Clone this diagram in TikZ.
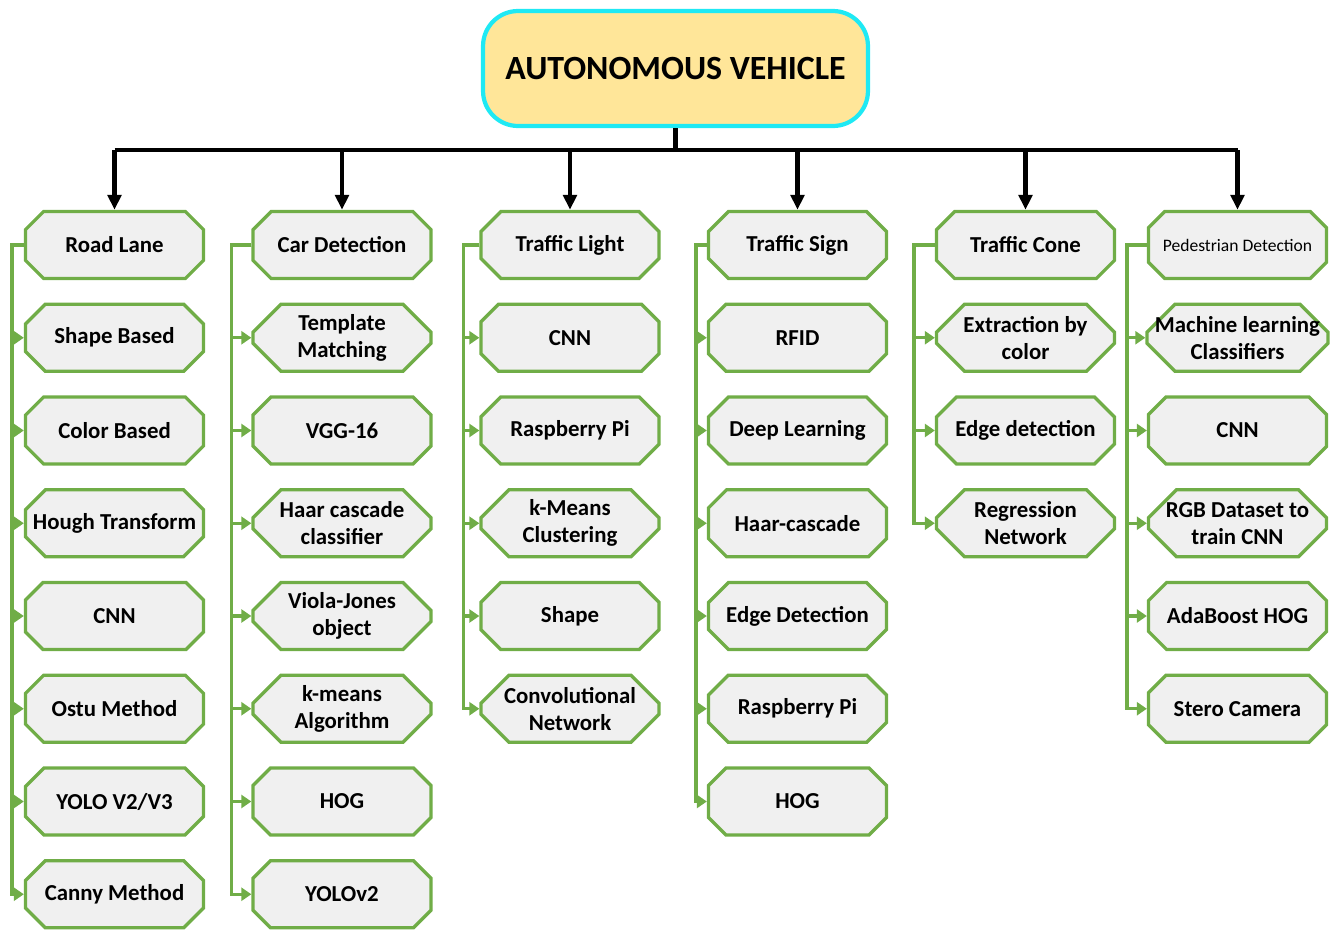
\documentclass[tikz,border=0pt]{standalone}
\usepackage{fontspec}
\setmainfont{Carlito}
\usetikzlibrary{arrows.meta,shapes.misc,positioning}

\definecolor{leafgreen}{HTML}{70AD47}
\definecolor{leaffill}{HTML}{F0F0F0}
\definecolor{rootfill}{HTML}{FFE699}
\definecolor{rootline}{HTML}{1FE9F4}

\tikzset{
  root/.style={draw=rootline, line width=2.4pt, fill=rootfill, rounded corners=0.7cm,
    minimum width=7.7cm, minimum height=2.3cm, font=\fontsize{19.3}{23}\selectfont\bfseries},
  item/.style={chamfered rectangle, chamfered rectangle xsep=0.26cm, chamfered rectangle ysep=0.3cm,
    draw=leafgreen, line width=1.9pt, fill=leaffill, minimum width=3.56cm, minimum height=1.34cm,
    inner xsep=-0.1cm, inner ysep=-0.1cm, align=center, font=\fontsize{13}{15.4}\selectfont\bfseries},
  trunk/.style={line width=2.3pt},
  drop/.style={trunk, -{Triangle[length=0.3cm,width=0.27cm]}},
  feed/.style={leafgreen, line width=1.9pt, -{Triangle[length=0.2cm,width=0.26cm]}},
}

\begin{document}
\begin{tikzpicture}[x=0.02cm,y=-0.02cm]
  \useasboundingbox (0,0) rectangle (1330,930);
  \node[root] (av) at (675.5,68.5) {AUTONOMOUS VEHICLE};
  \draw[trunk] (av.south) -- ++(0,22) coordinate (hub);
  % one column per topic
  \foreach \col/\cx/\gap/\head/\items in {
      road/114.5/12/{Road Lane}/{Shape Based,Color Based,Hough Transform,CNN,Ostu Method,YOLO V2/V3,Canny Method},
      car/342/20/{Car Detection}/{{Template\\Matching},VGG-16,{Haar cascade\\classifier},{Viola-Jones\\object},{k-means\\Algorithm},HOG,YOLOv2},
      light/570/16/{Traffic Light}/{CNN,Raspberry Pi,{k-Means\\Clustering},Shape,{Convolutional\\Network}},
      sign/797.5/11/{Traffic Sign}/{RFID,Deep Learning,Haar-cascade,Edge Detection,Raspberry Pi,HOG},
      cone/1025.5/21/{Traffic Cone}/{{Extraction by\\color},Edge detection,{Regression\\Network}},
      ped/1237.5/20/{\fontsize{10}{12}\selectfont\mdseries Pedestrian Detection}/{{Machine learning\\Classifiers},CNN,{RGB Dataset to\\train CNN},AdaBoost HOG,Stero Camera}} {
    \node[item] (\col) at (\cx,245) {\head};
    \draw[drop] (\col |- hub) -- (\col.north);
    \foreach \t [count=\i] in \items {
      \node[item] (\col-\i) at (\cx,{245+92.75*\i}) {\t};
      \draw[feed] (\col.west) -- ++(-\gap,0) |- (\col-\i.west);
    }
  }
  \draw[trunk] (road |- hub) -- (ped |- hub);
\end{tikzpicture}
\end{document}
